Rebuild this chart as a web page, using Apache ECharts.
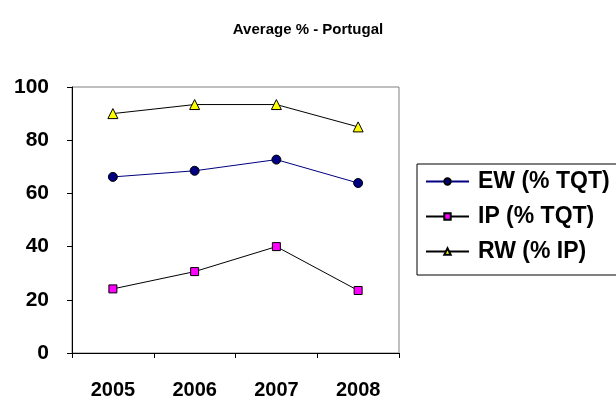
<!DOCTYPE html>
<html>
<head>
<meta charset="utf-8">
<script src="https://cdn.jsdelivr.net/npm/echarts@6/dist/echarts.min.js"></script>
<style>html,body{margin:0;padding:0;background:#fff;}#c{width:616px;height:400px;}</style>
</head>
<body>
<div id="c"></div>
<script>
const categories = ['2005', '2006', '2007', '2008'];
const ewValues = [66.2, 68.5, 72.7, 63.9];
const ipValues = [24.1, 30.6, 40.0, 23.5];
const rwValues = [90.0, 93.4, 93.4, 85.0];
const yTicks = [0, 20, 40, 60, 80, 100];
const seriesNames = ['EW (% TQT)', 'IP (% TQT)', 'RW (% IP)'];

const chart = echarts.init(document.getElementById('c'), null, {renderer: 'canvas'});
const font = 'Liberation Sans, Arial, sans-serif';
chart.setOption({
  animation: false,
  backgroundColor: '#fff',
  title: {
    text: 'Average % - Portugal',
    left: 'center',
    top: 17,
    textStyle: {fontFamily: font, fontSize: 15, fontWeight: 'bold', color: '#000'}
  },
  grid: {
    left: 72, right: 217, top: 87, bottom: 47,
    show: true, borderColor: '#808080', borderWidth: 1, backgroundColor: '#fff'
  },
  legend: {
    orient: 'vertical',
    left: 417, top: 164,
    padding: [6, 40, 12, 8],
    itemWidth: 43, itemHeight: 8, itemGap: 12,
    borderColor: '#000', borderWidth: 1,
    textStyle: {fontFamily: font, fontSize: 23, lineHeight: 23, fontWeight: 'bold', color: '#000', padding: [0, 0, 0, 4]},
    data: seriesNames
  },
  xAxis: {
    type: 'category',
    data: categories,
    boundaryGap: true,
    axisLine: {lineStyle: {color: '#000', width: 1}},
    axisTick: {show: true, inside: false, length: 5, lineStyle: {color: '#000'}},
    axisLabel: {fontFamily: font, fontSize: 20, fontWeight: 'bold', color: '#000', margin: 27},
    splitLine: {show: false}
  },
  yAxis: {
    type: 'value',
    min: yTicks[0], max: yTicks[yTicks.length - 1], interval: 20,
    axisLine: {show: true, lineStyle: {color: '#000', width: 1}},
    axisTick: {show: true, inside: false, length: 5, lineStyle: {color: '#000'}},
    axisLabel: {fontFamily: font, fontSize: 21, fontWeight: 'bold', color: '#000', margin: 23},
    splitLine: {show: false}
  },
  series: [
    {
      name: seriesNames[0], type: 'line', data: ewValues,
      symbol: 'circle', symbolSize: 9,
      lineStyle: {color: '#000080', width: 1},
      itemStyle: {color: '#000080', borderColor: '#000', borderWidth: 1}
    },
    {
      name: seriesNames[1], type: 'line', data: ipValues,
      symbol: 'rect', symbolSize: 8,
      lineStyle: {color: '#000', width: 1},
      itemStyle: {color: '#FF00FF', borderColor: '#000', borderWidth: 1}
    },
    {
      name: seriesNames[2], type: 'line', data: rwValues,
      symbol: 'triangle', symbolSize: 10,
      lineStyle: {color: '#000', width: 1},
      itemStyle: {color: '#FFFF00', borderColor: '#000', borderWidth: 1}
    }
  ]
});
</script>
</body>
</html>
